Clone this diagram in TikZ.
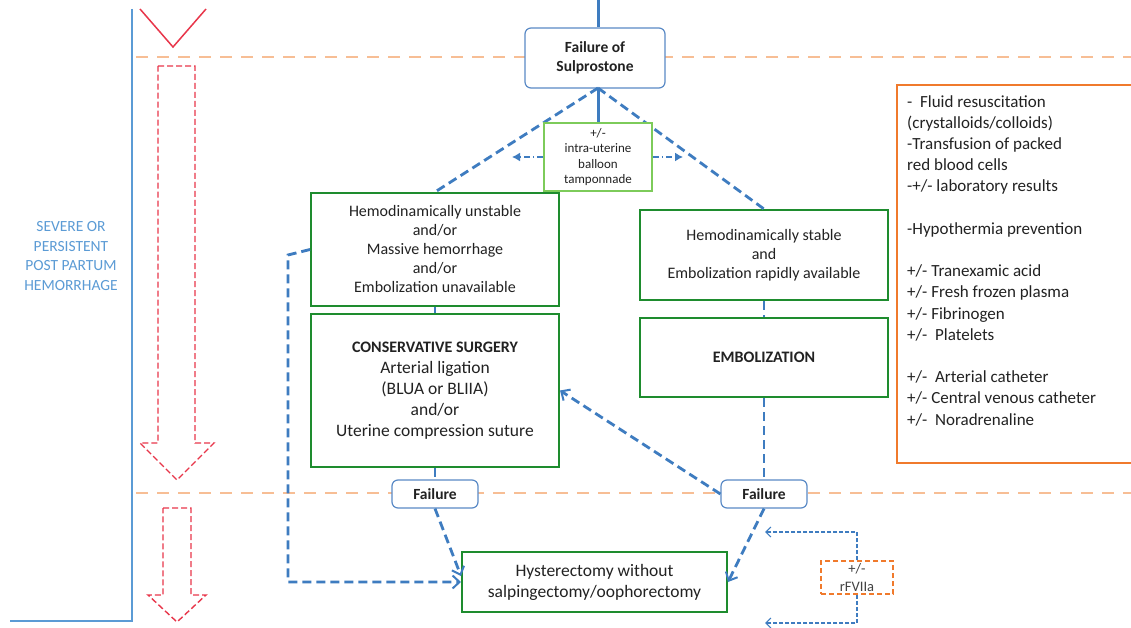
\documentclass[tikz,border=0pt]{standalone}
\usepackage{fontspec}
\setmainfont{Carlito}
\usetikzlibrary{arrows.meta,calc}
\definecolor{lblue}{HTML}{3E7CC0}
\definecolor{bblue}{HTML}{5A8AC6}
\definecolor{gboxc}{HTML}{1E8C2E}
\definecolor{lgreen}{HTML}{7DCB5A}
\definecolor{orng}{HTML}{F07A2C}
\definecolor{lorng}{HTML}{F7BE95}
\definecolor{redd}{HTML}{E8364A}
\definecolor{sevblue}{HTML}{5B9BD5}
\definecolor{txt}{HTML}{222222}
\begin{document}
\begin{tikzpicture}[x=1pt,y=-1pt,
  gbox/.style={draw=gboxc, line width=2pt, fill=white, minimum width=248pt, align=center, inner sep=0pt, text=txt, font=\fontsize{16}{19}\selectfont},
  failbox/.style={draw=bblue, line width=1.2pt, rounded corners=6pt, fill=white, align=center, inner sep=0pt, text=txt, font=\bfseries\fontsize{15.5}{18}\selectfont},
  conn/.style={draw=lblue, line width=2.8pt, dash pattern=on 9pt off 5pt},
  thinconn/.style={draw=lblue, line width=1.4pt, dash pattern=on 4pt off 2pt},
  arr/.style={-{Straight Barb[length=7pt,width=13pt,line width=2pt]}},
  thinarr/.style={-{Straight Barb[length=5pt,width=10pt,line width=1.2pt]}},
  orline/.style={draw=lorng, line width=2.5pt, dash pattern=on 12pt off 9pt},
  redarrow/.style={draw=redd, line width=1.4pt, dash pattern=on 6pt off 3pt}
]
\useasboundingbox (0,0) rectangle (1131,628);
\fill[white] (0,0) rectangle (1131,628);

% left frame
\draw[sevblue, line width=1.5pt] (132,9) -- (132,621) -- (10,621);
\draw[redd, line width=1.5pt] (140,9) -- (173,47) -- (206,9);
\node[text=sevblue, align=center, font=\fontsize{15.5}{19.5}\selectfont] (sev) at (71,256) {SEVERE OR\\PERSISTENT\\POST PARTUM\\HEMORRHAGE};

% orange dashed time lines
\draw[orline] (136,57) -- (1131,57);
\draw[orline] (136,493) -- (1131,493);

% red dashed arrows
\draw[redarrow] (158,66) -- (195,66) -- (195,443) -- (214,443) -- (177,480) -- (140,443) -- (158,443) -- cycle;
\draw[redarrow] (163,508) -- (191,508) -- (191,595) -- (206,595) -- (177,622) -- (148,595) -- (163,595) -- cycle;

% nodes
\node[failbox, minimum width=140pt, minimum height=60pt, font=\bfseries\fontsize{15.5}{19}\selectfont] (sulp) at (595,58) {Failure of\\Sulprostone};
\node[gbox, minimum height=113pt] (lb1) at (435,249.5) {Hemodinamically unstable\\and/or\\Massive hemorrhage\\and/or\\Embolization unavailable};
\node[gbox, minimum height=153pt, font=\fontsize{17.5}{21}\selectfont] (lb2) at (435,390.5) {{\bfseries\fontsize{16}{21}\selectfont CONSERVATIVE SURGERY}\\Arterial ligation\\(BLUA or BLIIA)\\and/or\\Uterine compression suture};
\node[gbox, minimum height=90pt] (rb1) at (764,255) {Hemodinamically stable\\and\\Embolization rapidly available};
\node[gbox, minimum height=79pt, font=\bfseries\fontsize{16}{19}\selectfont] (rb2) at (764,357.5) {EMBOLIZATION};
\node[gbox, minimum width=265pt, minimum height=60pt, font=\fontsize{17.5}{21}\selectfont] (hyst) at (594.5,582) {Hysterectomy without\\salpingectomy/oophorectomy};

% connectors top
\coordinate (topin) at (598,0);
\coordinate (sulpout) at (598,88);
\draw[lblue, line width=3pt] (topin) -- (topin |- sulp.north);
\draw[conn] (sulpout) -- (lb1.north);
\draw[conn] (sulpout) -- (rb1.north);

\node[draw=lgreen, line width=1.6pt, fill=white, minimum width=108pt, minimum height=68pt, inner sep=0pt, align=center, text=txt, font=\fontsize{13}{15.5}\selectfont] (ball) at (598,157) {+/-\\intra-uterine\\balloon\\tamponnade};
\draw[lblue, line width=3pt] (sulpout) -- (ball.north);
\coordinate (bl) at (512,157);
\coordinate (br) at (683,157);
\draw[lblue, line width=1.4pt, dash pattern=on 6pt off 3pt on 1.5pt off 3pt, -{Latex[length=8pt,width=9pt]}] (ball.west) -- (bl);
\draw[lblue, line width=1.4pt, dash pattern=on 6pt off 3pt on 1.5pt off 3pt, -{Latex[length=8pt,width=9pt]}] (ball.east) -- (br);

% failure boxes
\node[failbox, minimum width=86pt, minimum height=28pt] (fl) at (435,494) {Failure};
\node[failbox, minimum width=86pt, minimum height=28pt] (fr) at (764,494) {Failure};

\draw[conn] (lb1.south) -- (lb2.north);
\draw[conn] (rb1.south) -- (rb2.north);
\draw[conn] (lb2.south) -- (fl.north);
\draw[conn] (rb2.south) -- (fr.north);
\draw[conn, arr] (fr.west) -- (lb2.east);
\draw[conn, arr] (fl.south) -- ($(hyst.west)+(0,-6)$);
\draw[conn, arr] (fr.south) -- (hyst.east);

% left bypass
\coordinate (lp1) at (288,255);
\coordinate (lp2) at (288,582);
\draw[conn, arr] (lb1.west) -- (lp1) -- (lp2) -- (lp2 -| hyst.west);

% rFVIIa
\node[draw=orng, line width=1.5pt, dash pattern=on 5pt off 3pt, fill=white, minimum width=72pt, minimum height=33pt, inner sep=0pt, align=center, text=txt!85, font=\fontsize{14.5}{18}\selectfont] (rf) at (857,577.5) {+/-\\rFVIIa};
\coordinate (rf1) at (857,532);
\coordinate (rf2) at (765,532);
\coordinate (rf3) at (857,623);
\coordinate (rf4) at (765,623);
\draw[thinconn, thinarr] (rf.north) -- (rf1) -- (rf2);
\draw[thinconn, thinarr] (rf.south) -- (rf3) -- (rf4);

% right orange box
\draw[orng, line width=2pt] (1131,85) -- (897,85) -- (897,463) -- (1131,463);
\node[anchor=north west, align=left, inner sep=0pt, text=txt, font=\fontsize{17}{21.2}\selectfont] (care) at (907,95) {-\ \ Fluid resuscitation\\(crystalloids/colloids)\\-Transfusion of packed\\red blood cells\\-+/- laboratory results\\[21.2pt]-Hypothermia prevention\\[21.2pt]+/- Tranexamic acid\\+/- Fresh frozen plasma\\+/- Fibrinogen\\+/-\ \ Platelets\\[21.2pt]+/-\ \ Arterial catheter\\+/- Central venous catheter\\+/-\ \ Noradrenaline};
\end{tikzpicture}
\end{document}
